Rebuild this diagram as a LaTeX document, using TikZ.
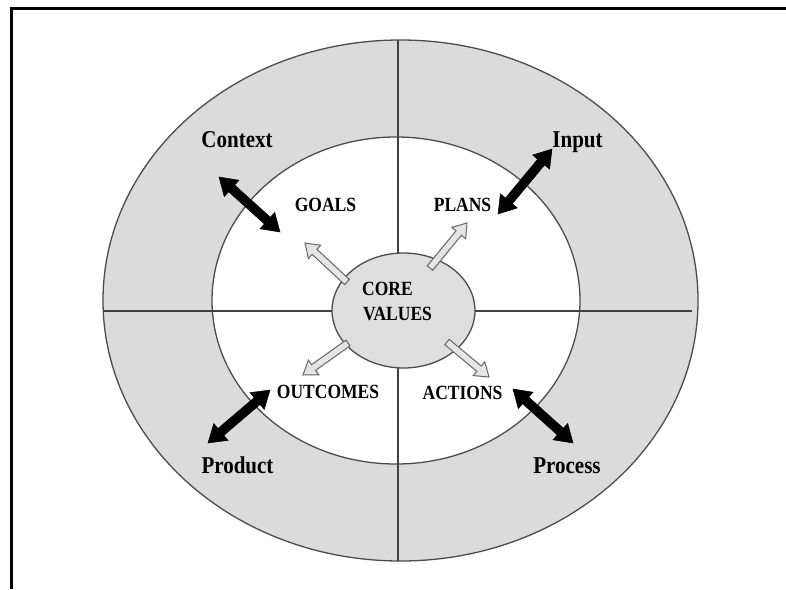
\documentclass[tikz,border=0pt]{standalone}
\usepackage{fontspec}
\usepackage{graphicx}
\setmainfont{Liberation Serif}
\usetikzlibrary{calc}
\newcommand\tallbox[1]{\scalebox{1}[1.15]{#1}}
\tikzset{
  frameline/.style={draw=black, line width=3pt, line join=miter},
  ringline/.style={draw=black!70, line width=1.3pt},
  divline/.style={draw=black!75, line width=1.4pt},
  outerlabel/.style={font=\fontsize{21}{24}\selectfont\bfseries, anchor=base, inner sep=0pt},
  innerlabel/.style={font=\fontsize{17.5}{21}\selectfont\bfseries, inner sep=0pt},
  blackarrow/.style={fill=black, draw=black, line width=0.5pt, line join=miter},
  hollowarrow/.style={fill=black!10, draw=black!60, line width=1pt, line join=miter},
}
\newcommand\twoheadarrow[2]{%
  \path ($(#1)!17pt!(#2)$) coordinate (na) ($(#2)!17pt!(#1)$) coordinate (nb);
  \draw[blackarrow] (#1) -- ($(na)!11pt!90:(#2)$) -- ($(na)!4.5pt!90:(#2)$)
    -- ($(nb)!4.5pt!-90:(#1)$) -- ($(nb)!11pt!-90:(#1)$) -- (#2)
    -- ($(nb)!11pt!90:(#1)$) -- ($(nb)!4.5pt!90:(#1)$)
    -- ($(na)!4.5pt!-90:(#2)$) -- ($(na)!11pt!-90:(#2)$) -- cycle;
}
\newcommand\outarrow[2]{%
  \path ($(#2)!13pt!(#1)$) coordinate (nh);
  \draw[hollowarrow] ($(#1)!3.5pt!90:(#2)$) -- ($(nh)!3.5pt!90:(#2)$)
    -- ($(nh)!9pt!90:(#2)$) -- (#2) -- ($(nh)!9pt!-90:(#2)$)
    -- ($(nh)!3.5pt!-90:(#2)$) -- ($(#1)!3.5pt!-90:(#2)$) -- cycle;
}
\begin{document}
\begin{tikzpicture}[x=1pt, y=-1pt]
  \useasboundingbox (0,0) rectangle (786,589);
  \fill[white] (0,0) rectangle (786,589);
  % frame (top and left edges visible)
  \draw[frameline] (786,8) -- (11,8) -- (11,589);
  % rings
  \draw[ringline, fill=black!14] (400.5,300.5) ellipse [x radius=297.5pt, y radius=260.5pt];
  \draw[ringline, fill=white] (396,300.5) ellipse [x radius=184pt, y radius=163.5pt];
  % dividing lines
  \coordinate (vtop) at (398,40);
  \coordinate (vbot) at (398,561);
  \coordinate (hleft) at (103,311);
  \coordinate (hright) at (692,311);
  \draw[divline] (vtop) -- (vbot);
  \draw[divline] (hleft) -- (hright);
  % core
  \draw[ringline, fill=black!13] (403.5,310.5) ellipse [x radius=71.5pt, y radius=57.5pt];
  \node[innerlabel, anchor=base west] (core1) at (362,295) {\tallbox{CORE}};
  \node[innerlabel, anchor=base west] (core2) at (363,320) {\tallbox{VALUES}};
  % labels
  \node[outerlabel] (context) at (237,147) {\tallbox{Context}};
  \node[outerlabel] (input) at (577.5,147) {\tallbox{Input}};
  \node[outerlabel] (product) at (237.5,473) {\tallbox{Product}};
  \node[outerlabel] (process) at (567,473) {\tallbox{Process}};
  \node[innerlabel, anchor=base] (goals) at (325.5,211) {\tallbox{GOALS}};
  \node[innerlabel, anchor=base] (plans) at (462.5,211) {\tallbox{PLANS}};
  \node[innerlabel, anchor=base] (outcomes) at (328,398) {\tallbox{OUTCOMES}};
  \node[innerlabel, anchor=base] (actions) at (462.5,399) {\tallbox{ACTIONS}};
  % hollow arrows from core
  \coordinate (gT) at (347,282); \coordinate (gH) at (305,243);
  \coordinate (pT) at (430,268); \coordinate (pH) at (467,223);
  \coordinate (oT) at (348,343); \coordinate (oH) at (303,375);
  \coordinate (aT) at (447,342); \coordinate (aH) at (489,377);
  \outarrow{gT}{gH}
  \outarrow{pT}{pH}
  \outarrow{oT}{oH}
  \outarrow{aT}{aH}
  % black double arrows
  \coordinate (cA) at (219,177); \coordinate (cB) at (280,232);
  \coordinate (iA) at (552,149); \coordinate (iB) at (498,214);
  \coordinate (prA) at (270,390); \coordinate (prB) at (208,443);
  \coordinate (psA) at (513,389); \coordinate (psB) at (573,443);
  \twoheadarrow{cA}{cB}
  \twoheadarrow{iA}{iB}
  \twoheadarrow{prA}{prB}
  \twoheadarrow{psA}{psB}
\end{tikzpicture}
\end{document}
